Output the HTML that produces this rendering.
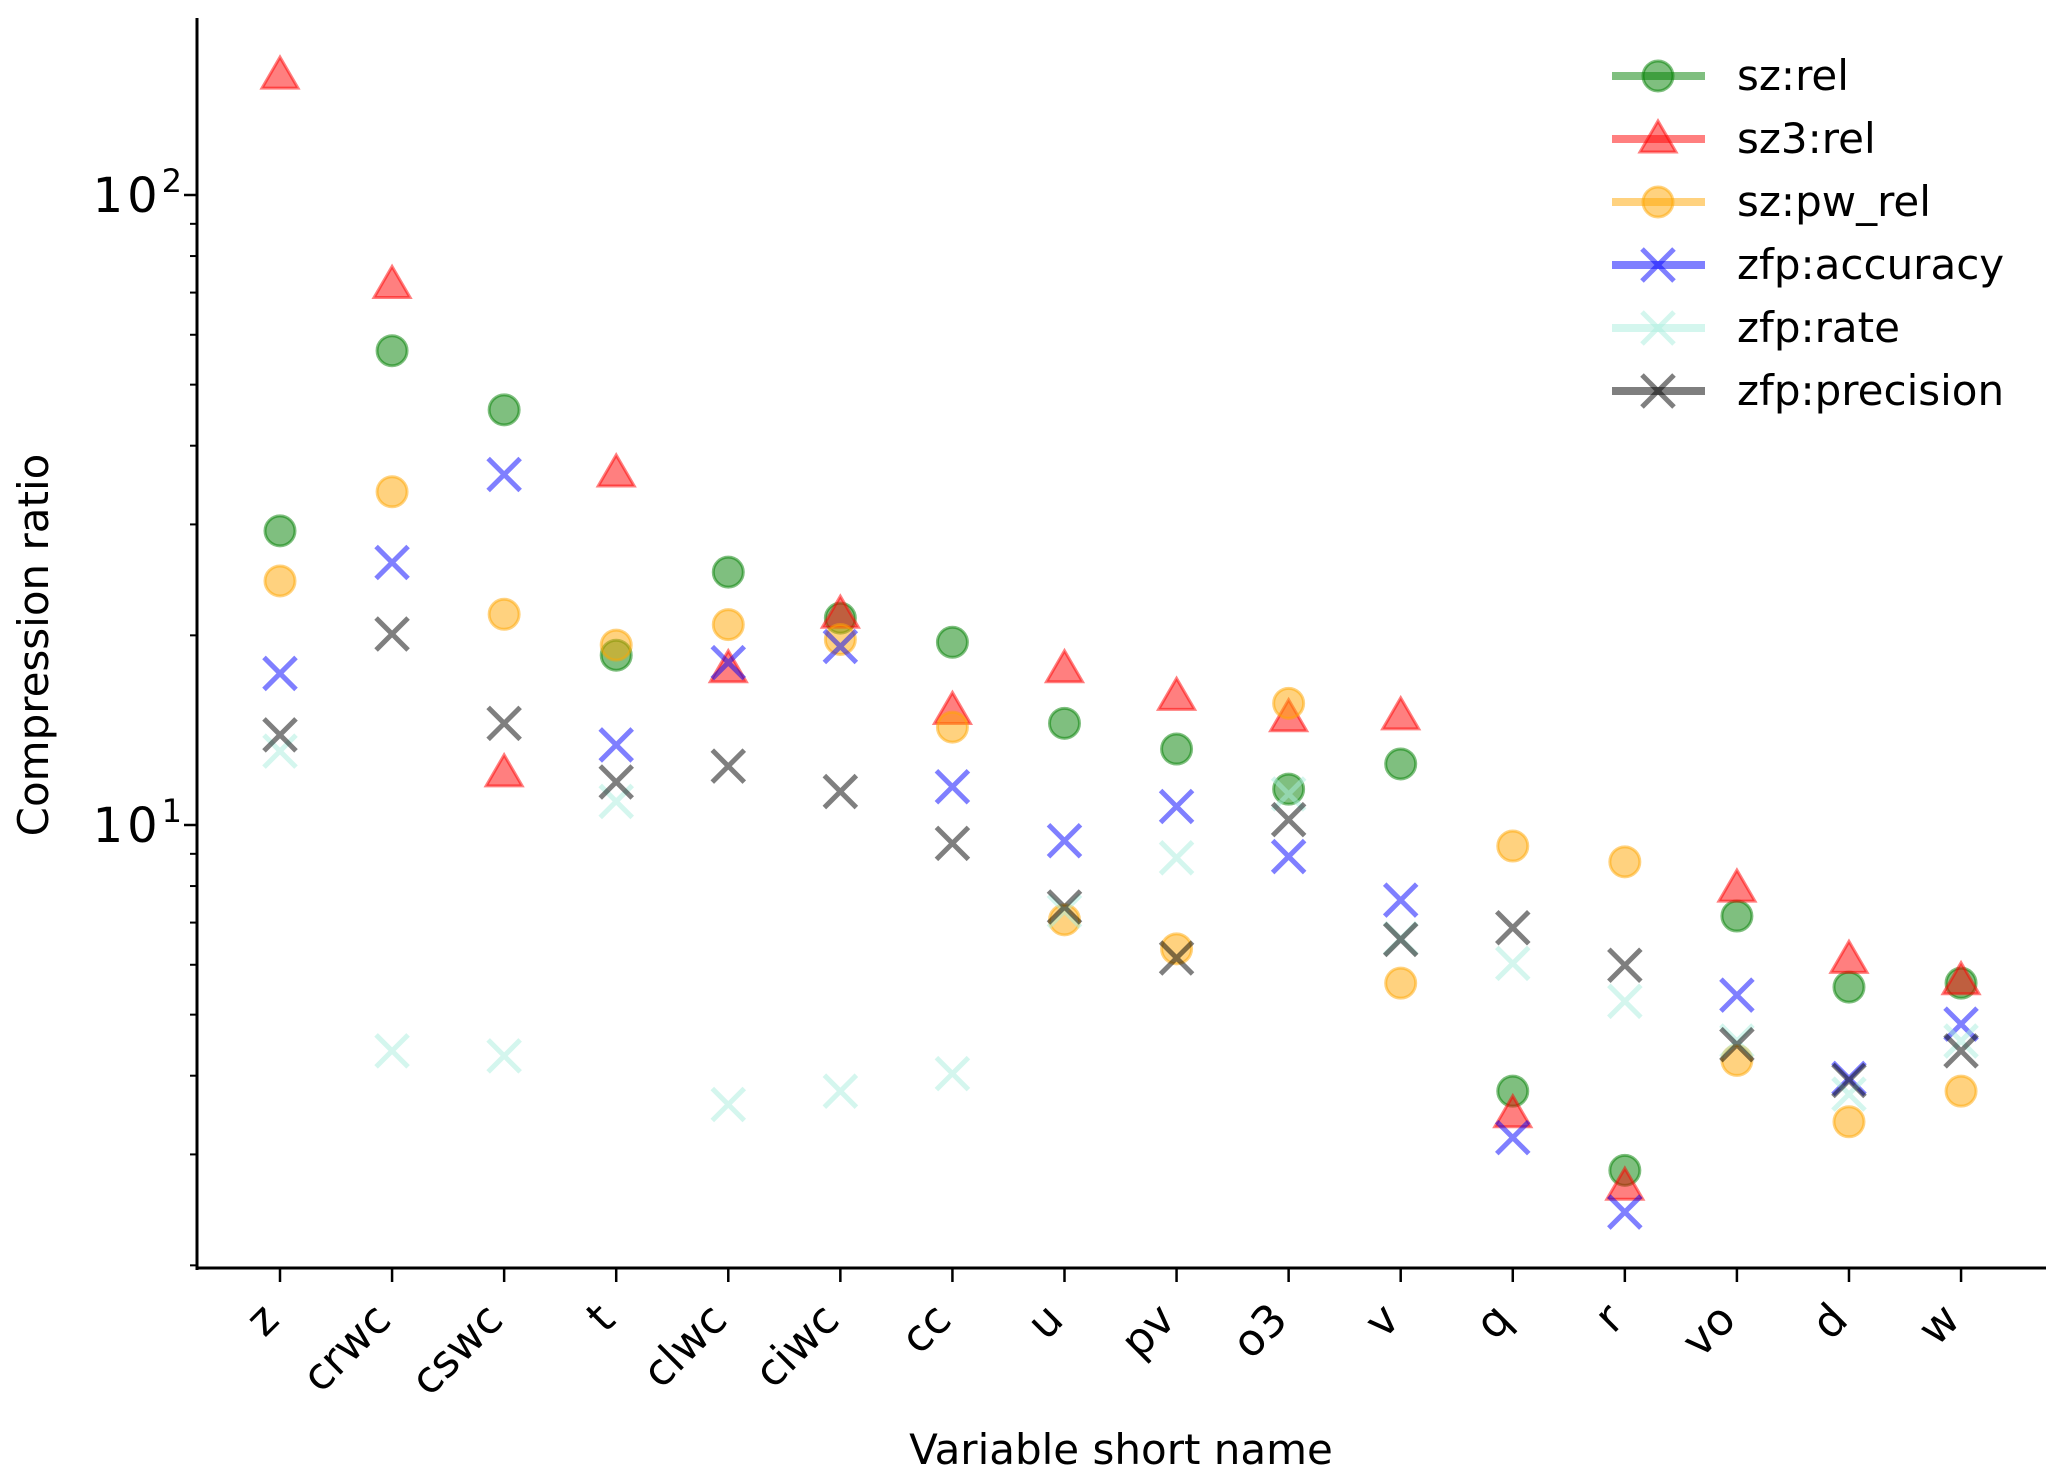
<!DOCTYPE html>
<html><head><meta charset="utf-8"><style>
html,body{margin:0;padding:0;background:#fff;}
svg{display:block;font-family:"DejaVu Sans","Liberation Sans",sans-serif;}
</style></head><body>
<svg id="chart" width="2067" height="1484" viewBox="0 0 2067 1484"></svg>
<script>
const categories=["z","crwc","cswc","t","clwc","ciwc","cc","u","pv","o3","v","q","r","vo","d","w"];
const szRel=[29.3,56.6,45.6,18.6,25.2,21.3,19.5,14.5,13.2,11.4,12.5,3.78,2.83,7.17,5.53,5.61];
const sz3Rel=[155,72.1,12.1,36.2,17.7,21.6,15.2,17.7,16.0,14.8,14.9,3.48,2.67,7.94,6.12,5.66];
const szPwRel=[24.4,33.8,21.6,19.3,20.8,19.7,14.3,7.07,6.36,15.6,5.61,9.26,8.74,4.23,3.38,3.78];
const zfpAccuracy=[17.4,26.1,36.0,13.4,18.1,19.2,11.5,9.44,10.7,8.91,7.60,3.19,2.43,5.37,3.96,4.83];
const zfpRate=[13.1,4.38,4.3,10.9,3.6,3.78,4.03,7.3,8.87,11.2,6.6,6.03,5.25,4.54,3.74,4.54];
const zfpPrecision=[13.9,20.1,14.5,11.7,12.4,11.3,9.35,7.41,6.15,10.2,6.58,6.87,5.99,4.48,3.93,4.38];
const yTickExps=[1,2];

const NS="http://www.w3.org/2000/svg";
const svg=document.getElementById('chart');
const X0=197,XR=2046,YB=1268,YT=18;
const Y10=825,DEC=630;
function xs(i){return 280+i*112.07;}
function ys(v){return Y10-(Math.log10(v)-1)*DEC;}
function mk(tag,attrs,parent){const e=document.createElementNS(NS,tag);for(const k in attrs)e.setAttribute(k,attrs[k]);(parent||svg).appendChild(e);return e;}

let ax=mk('line',{x1:X0,y1:YT,x2:X0,y2:YB+2,stroke:'#000','stroke-width':3});


let bx=mk('line',{x1:X0-1.5,y1:YB,x2:XR,y2:YB,stroke:'#000','stroke-width':3});



for(let e=0;e<=2;e++){for(let m=1;m<=9;m++){const v=m*Math.pow(10,e);const y=ys(v);if(y<YT||y>YB+2)continue;
 const major=m===1;
 const t=mk('line',{x1:X0-(major?13:7),y1:y,x2:X0,y2:y,stroke:'#000','stroke-width':major?2.5:2});
 
 }}
yTickExps.forEach(e=>{const y=ys(Math.pow(10,e));
 const t=mk('text',{x:186,y:y+17,'text-anchor':'end','font-size':48,'letter-spacing':4});
 
 
 t.textContent='10';
 const s=mk('tspan',{dy:-20,'font-size':32},t);s.textContent=String(e);});

categories.forEach((c,i)=>{const x=xs(i);
 const t=mk('line',{x1:x,y1:YB,x2:x,y2:YB+14,stroke:'#000','stroke-width':2.5});
 
 
 const l=mk('text',{x:0,y:0,'text-anchor':'end','font-size':44,transform:`translate(${x+1},${YB+54}) rotate(-45)`});
 
 
 l.textContent=c;});

let yt=mk('text',{x:0,y:0,'text-anchor':'middle','font-size':42,transform:'translate(48,645) rotate(-90)'});


yt.textContent='Compression ratio';
let xt=mk('text',{x:1121,y:1464,'text-anchor':'middle','font-size':42});


xt.textContent='Variable short name';

function marker(g,kind,x,y,col){
 if(kind==='o'){mk('circle',{cx:x,cy:y,r:15,fill:col,'fill-opacity':0.5,stroke:col,'stroke-opacity':0.5,'stroke-width':3},g);}
 else if(kind==='^'){mk('polygon',{points:`${x},${y-18} ${x+18},${y+13} ${x-18},${y+13}`,fill:col,'fill-opacity':0.5,stroke:col,'stroke-opacity':0.5,'stroke-width':3},g);}
 else {mk('path',{d:`M${x-16},${y-16}L${x+16},${y+16}M${x-16},${y+16}L${x+16},${y-16}`,stroke:col,'stroke-opacity':0.5,'stroke-width':5},g);}
}
const series=[
 {name:'sz:rel',vals:szRel,kind:'o',col:'#008000',id:'series-sz-rel'},
 {name:'sz3:rel',vals:sz3Rel,kind:'^',col:'#ff0000',id:'series-sz3-rel'},
 {name:'sz:pw_rel',vals:szPwRel,kind:'o',col:'#ffa500',id:'series-sz-pw-rel'},
 {name:'zfp:accuracy',vals:zfpAccuracy,kind:'x',col:'#0000ff',id:'series-zfp-accuracy'},
 {name:'zfp:rate',vals:zfpRate,kind:'x',col:'#aaeedd',id:'series-zfp-rate'},
 {name:'zfp:precision',vals:zfpPrecision,kind:'x',col:'#000000',id:'series-zfp-precision'}
];
series.forEach((s,si)=>{
 const g=mk('g',{});
 
 
 s.vals.forEach((v,i)=>marker(g,s.kind,xs(i),ys(v),s.col));
 const ly=76+si*63;
 const lg=mk('g',{});
 
 
 mk('line',{x1:1612,y1:ly,x2:1705,y2:ly,stroke:s.col,'stroke-opacity':0.5,'stroke-width':8},lg);
 marker(lg,s.kind,1658,ly,s.col);
 const t=mk('text',{x:1737,y:ly+14,'font-size':42},lg);
 t.textContent=s.name;
});
</script>
</body></html>
